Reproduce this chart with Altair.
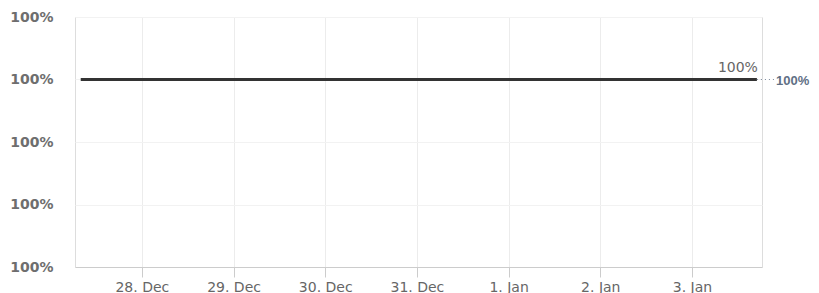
import altair as alt
import pandas as pd

# data
times = [
    "2023-12-27T08:00:00Z", "2023-12-28T00:00:00Z", "2023-12-29T00:00:00Z",
    "2023-12-30T00:00:00Z", "2023-12-31T00:00:00Z", "2024-01-01T00:00:00Z",
    "2024-01-02T00:00:00Z", "2024-01-03T00:00:00Z", "2024-01-03T17:00:00Z",
]
values = [100.0, 100.0, 100.0, 100.0, 100.0, 100.0, 100.0, 100.0, 100.0]
y_ticks = [99.94, 99.96, 99.98, 100.00, 100.02]
x_ticks = [(2023, 12, 28), (2023, 12, 29), (2023, 12, 30), (2023, 12, 31),
           (2024, 1, 1), (2024, 1, 2), (2024, 1, 3)]

df = pd.DataFrame({"t": times, "v": values})
last = df.tail(1)

FONT = "DejaVu Sans"
W, H = 687, 250

x_enc = alt.X(
    "t:T",
    scale=alt.Scale(
        type="utc",
        domain=[alt.DateTime(year=2023, month=12, date=27, hours=6, minutes=30, utc=True),
                alt.DateTime(year=2024, month=1, date=3, hours=18, minutes=20, utc=True)],
    ),
    axis=alt.Axis(
        title=None,
        values=[alt.DateTime(year=y, month=m, date=d, utc=True) for y, m, d in x_ticks],
        labelExpr="utcFormat(datum.value, '%-d. %b')",
        grid=True, gridColor="#ececec",
        domainColor="#cccccc", tickColor="#cccccc", tickSize=10,
        labelColor="#666666", labelFont=FONT, labelFontSize=14, labelPadding=3,
    ),
)
y_scale = alt.Scale(domain=[y_ticks[0], y_ticks[-1]], zero=False, nice=False)

line = alt.Chart(df).mark_line(color="#333333", strokeWidth=3).encode(
    x=x_enc,
    y=alt.Y(
        "v:Q", scale=y_scale,
        axis=alt.Axis(
            title=None, values=y_ticks,
            labelExpr="format(datum.value, '.0f') + '%'",
            grid=True, gridColor="#f2f2f2", domain=False, ticks=False,
            labelColor="#6e6e6e", labelFont=FONT, labelFontSize=14,
            labelFontWeight="bold", labelPadding=22,
        ),
    ),
)

end_label = alt.Chart(last).transform_calculate(
    lbl="format(datum.v, '.0f') + '%'"
).mark_text(
    align="right", baseline="bottom", dy=-5, dx=1, font=FONT, fontSize=14,
    color="#666666",
).encode(x="t:T", y=alt.Y("v:Q", scale=y_scale), text="lbl:N")

dots = alt.Chart(last).mark_rule(color="#7a8799", strokeDash=[1, 3], strokeWidth=1).encode(
    x="t:T", x2=alt.value(W + 13), y=alt.Y("v:Q", scale=y_scale),
)

right_label = alt.Chart(last).transform_calculate(
    lbl="format(datum.v, '.0f') + '%'"
).mark_text(
    align="left", baseline="middle", font="Liberation Sans", fontSize=13,
    fontWeight="bold", color="#5f6f85", dy=1,
).encode(x=alt.value(W + 14), y=alt.Y("v:Q", scale=y_scale), text="lbl:N")

chart = alt.layer(line, dots, end_label, right_label).properties(
    width=W, height=H,
    autosize=alt.AutoSizeParams(type="none"),
    padding={"left": 67, "top": 9, "right": 49, "bottom": 26},
).configure_view(stroke="#e6e6e6").configure(background="white")

chart.save("out.html", embed_options={"renderer": "svg", "actions": False})
